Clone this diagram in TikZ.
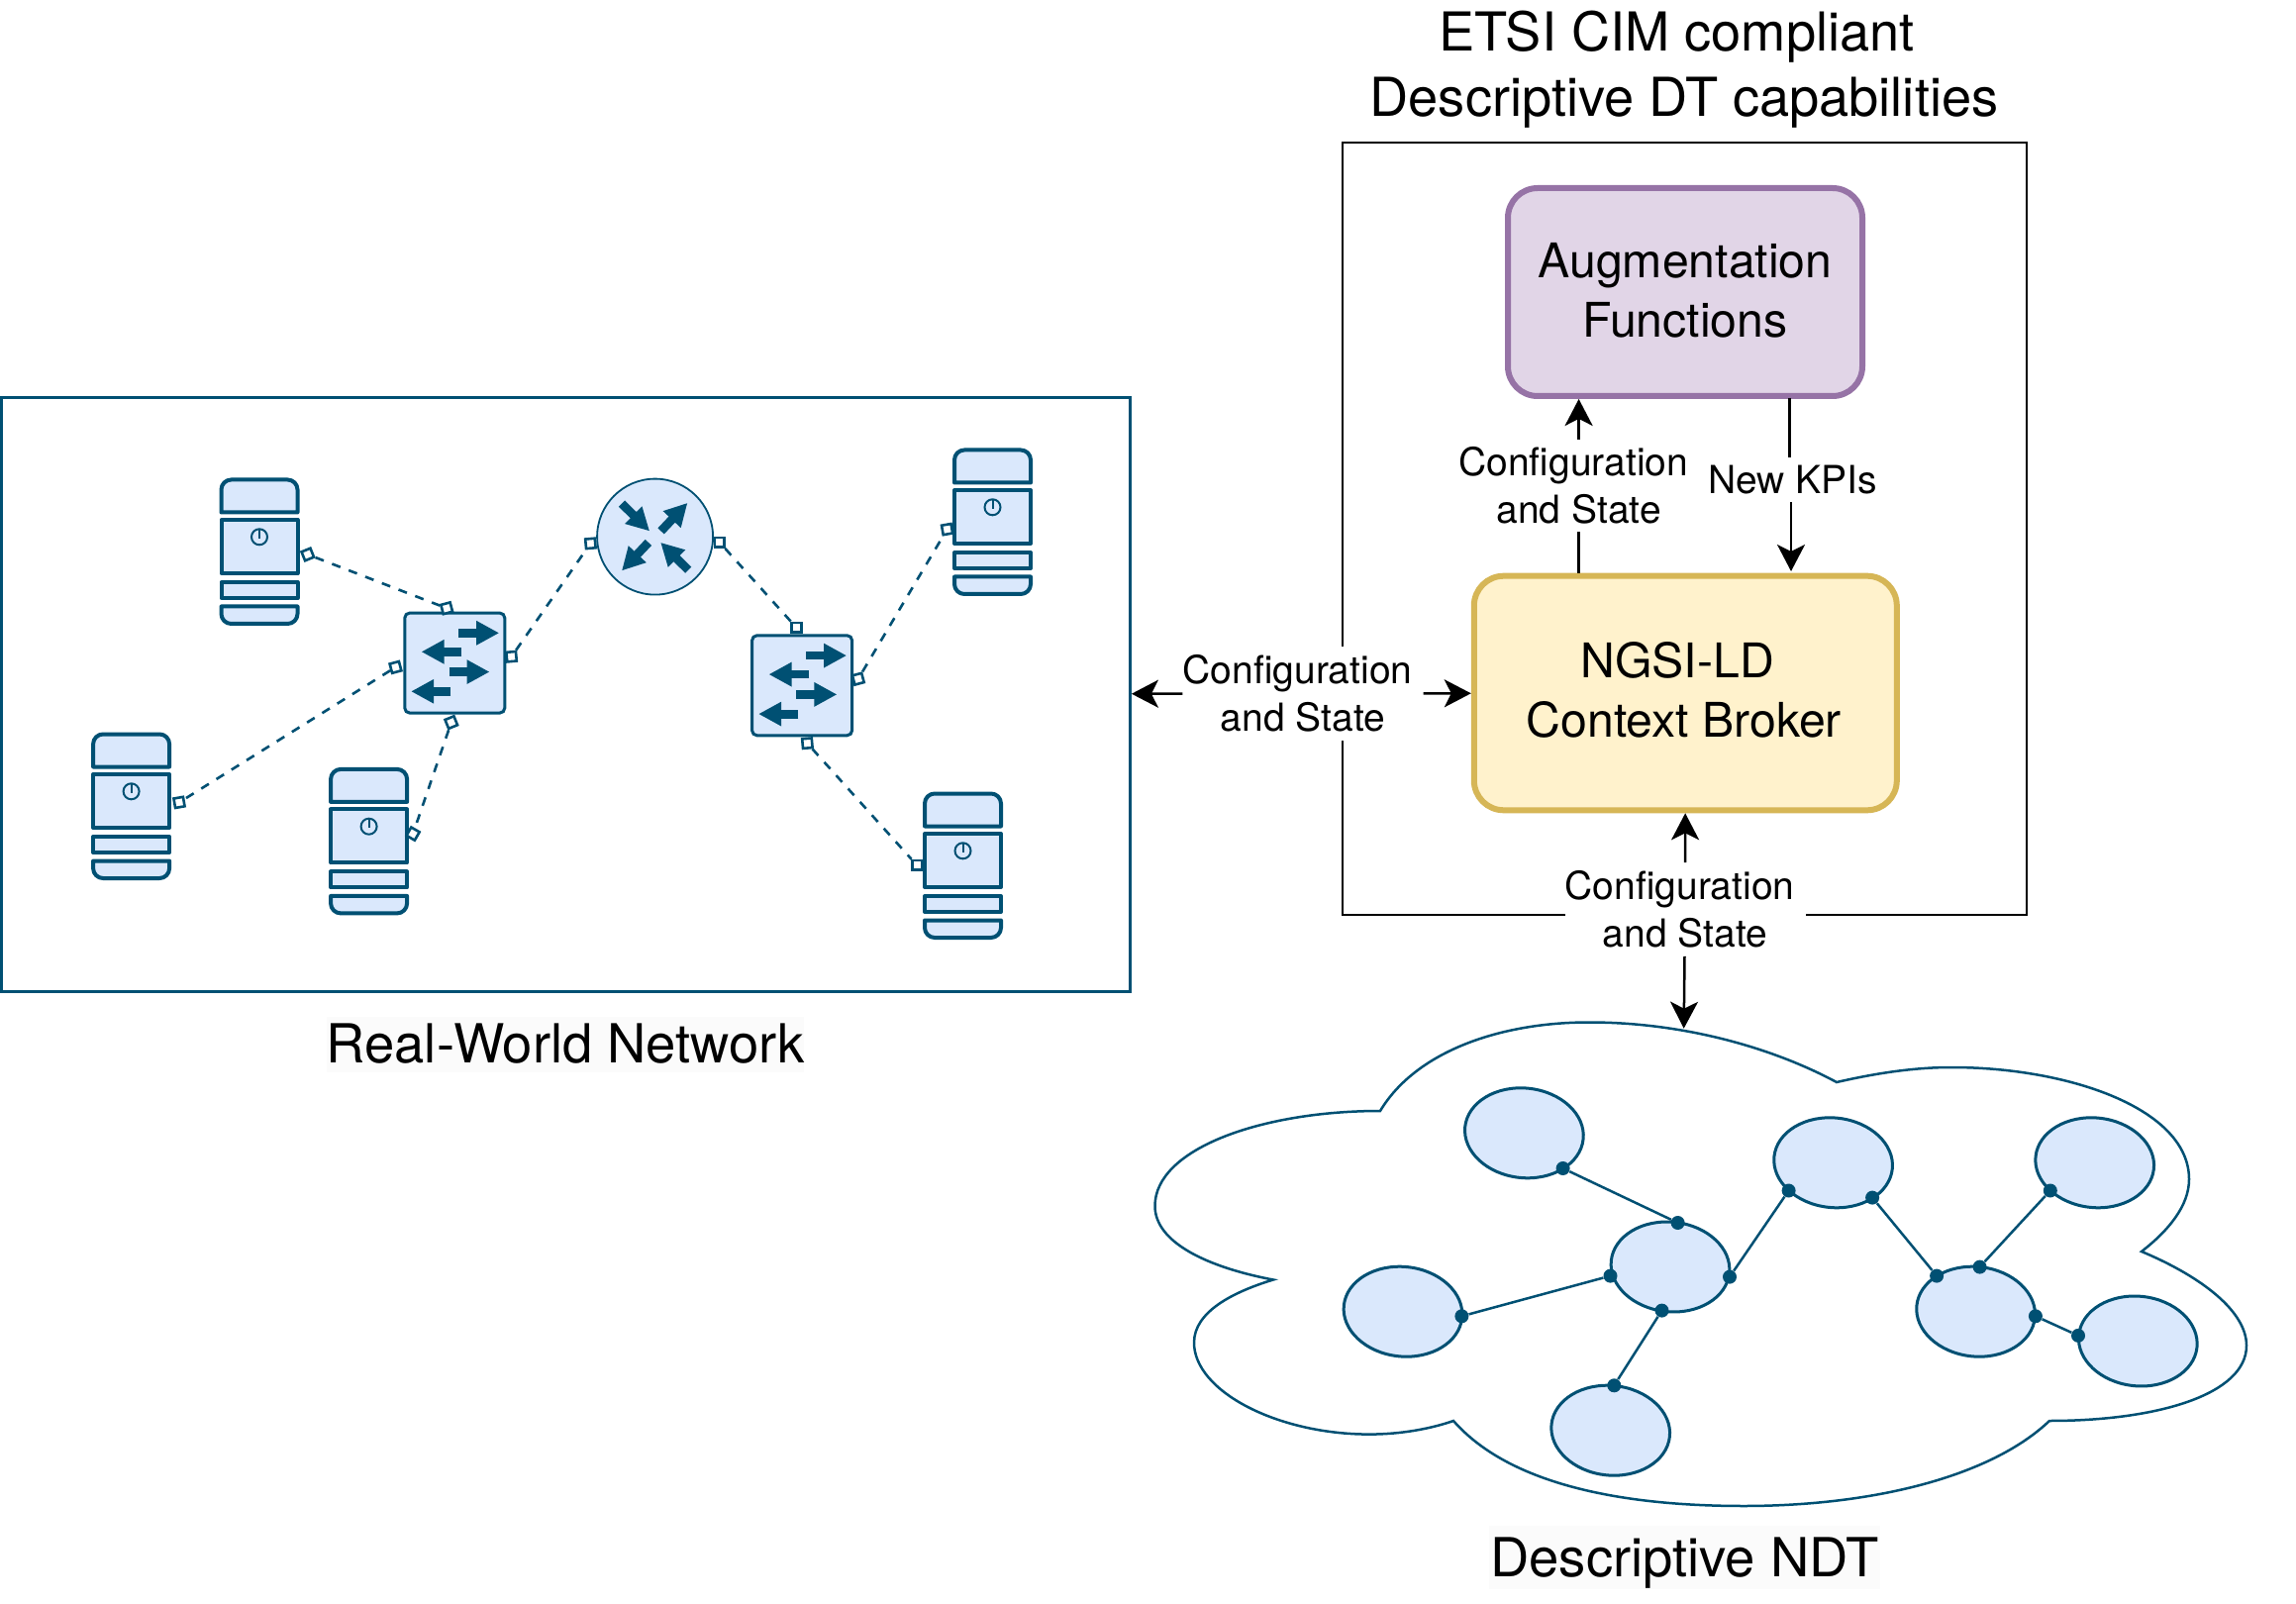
\documentclass[tikz,border=0pt]{standalone}
\usepackage{fontspec}
\setmainfont{TeX Gyre Heros}
\usetikzlibrary{arrows.meta,shapes.geometric}
\definecolor{netline}{HTML}{005073}
\definecolor{netfill}{HTML}{DAE8FC}
\definecolor{brokerfill}{HTML}{FFF2CC}
\definecolor{brokerline}{HTML}{D6B656}
\definecolor{augfill}{HTML}{E1D5E7}
\definecolor{augline}{HTML}{9673A6}
\definecolor{capbg}{HTML}{FBFBFB}
\newcommand{\tsp}{\hspace*{0.278em}}
\tikzset{
  x=0.5pt,y=-0.5pt,
  srvpart/.style={draw=netline,fill=netfill,line width=2pt,line join=round},
  pwr/.style={draw=netline,line width=1pt},
  portmark/.style={draw=netline,fill=white,line width=1.3pt,rectangle,inner sep=0pt,minimum size=4.8pt},
  netlink/.style={draw=netline,line width=1.3pt,dash pattern=on 4.5pt off 4.5pt},
  swbox/.style={draw=netline,fill=netfill,line width=1.5pt,rectangle,rounded corners=2.5pt,inner sep=0pt,minimum size=50.5pt},
  fatarrow/.style={draw=netline,line width=4.4pt,-{Triangle[length=11.5pt,width=11.5pt]}},
  routernode/.style={draw=netline,fill=netfill,line width=0.9pt,circle,inner sep=0pt,minimum size=58.5pt},
  flow/.style={draw=black,line width=1.25pt,-{Stealth[length=13.5pt,width=14pt,inset=3.5pt]}},
  plainflow/.style={draw=black,line width=1.25pt},
  lbl/.style={fill=white,inner sep=0pt,align=center,font=\fontsize{19.5}{24}\selectfont},
  bigbox/.style={rectangle,line width=3pt,inner sep=0pt,align=center,rounded corners=15pt,font=\fontsize{24.1}{29.8}\selectfont},
  caption/.style={fill=capbg,inner sep=0pt,font=\fontsize{27.2}{32.5}\selectfont},
  dtnode/.style={draw=netline,fill=netfill,line width=1.5pt,ellipse,inner sep=0pt,minimum width=60pt,minimum height=45.3pt,rotate=-6},
  dtdot/.style={fill=netline,circle,inner sep=0pt,minimum size=7pt},
  dtlink/.style={draw=netline,line width=1.25pt},
}
\newcommand{\serverIcon}[2]{%
  \begin{scope}[shift={(#1,#2)}]
    \draw[srvpart] (1.5,34.5) -- (1.5,11.5) .. controls (1.5,6) and (6,1.5) .. (11.5,1.5) -- (68.5,1.5) .. controls (74,1.5) and (78.5,6) .. (78.5,11.5) -- (78.5,34.5) -- cycle;
    \draw[srvpart] (1.5,42) rectangle (78.5,96);
    \draw[srvpart] (1.5,105) rectangle (78.5,121);
    \draw[srvpart] (1.5,129.5) -- (78.5,129.5) -- (78.5,137) .. controls (78.5,142.5) and (74,147) .. (68.5,147) -- (11.5,147) .. controls (6,147) and (1.5,142.5) .. (1.5,137) -- cycle;
    \draw[pwr] (40,59.3) circle[radius=8];
    \draw[pwr] (40,51.5) -- (40,61);
  \end{scope}}
\newcommand{\switchArrows}[2]{%
  \begin{scope}[shift={(#1,#2)}]
    \draw[fatarrow] (55.5,21.4) -- (96.6,21.4);
    \draw[fatarrow] (58.8,40.4) -- (18,40.4);
    \draw[fatarrow] (45.9,60.7) -- (86.9,60.7);
    \draw[fatarrow] (47.8,80.4) -- (7.6,80.4);
  \end{scope}}
\begin{document}
\begin{tikzpicture}
\useasboundingbox (0,0) rectangle (2319,1620);
\fill[white] (0,0) rectangle (2319,1620);

% Real-world network frame
\node[draw=netline,line width=1.5pt,rectangle,inner sep=0pt,minimum width=570pt,minimum height=299.5pt] (rw) at (571.4,701.5) {};
\node[caption,minimum width=241pt,minimum height=28pt] (rwcap) at (571,1054.5) {Real-World Network};

% Servers
\serverIcon{222}{483}
\serverIcon{92.6}{740}
\serverIcon{332.6}{775.4}
\serverIcon{962.5}{453}
\serverIcon{932.5}{800}

% Switches and router
\node[swbox] (sw1) at (459.3,669.6) {};
\switchArrows{407.6}{617.9}
\node[swbox] (sw2) at (810.1,692.3) {};
\switchArrows{758.5}{640.7}
\node[routernode] (router) at (661.6,542.1) {};
\draw[fatarrow] (628,508.6) -- (656.1,536.4);
\draw[fatarrow] (667.6,536.4) -- (694.4,507.9);
\draw[fatarrow] (654.9,547.9) -- (628,576.4);
\draw[fatarrow] (695.2,575.7) -- (667.2,547.9);

% Ports
\node[portmark,rotate=22] (p1) at (310.8,560) {};
\node[portmark,rotate=15] (p2) at (451.2,614.3) {};
\node[portmark,rotate=5]  (p3) at (516.6,663.2) {};
\node[portmark,rotate=15] (p4) at (399.5,673.9) {};
\node[portmark,rotate=22] (p5) at (455.8,729.6) {};
\node[portmark,rotate=10] (p6) at (181,810.4) {};
\node[portmark,rotate=60] (p7) at (417.1,842.1) {};
\node[portmark,rotate=5]  (p8) at (596.4,548.9) {};
\node[portmark] (p9) at (726.9,547.9) {};
\node[portmark] (p10) at (804.4,633.9) {};
\node[portmark,rotate=15] (p11) at (866.8,685.7) {};
\node[portmark,rotate=5]  (p12) at (815.4,750.7) {};
\node[portmark,rotate=10] (p13) at (956.6,534.6) {};
\node[portmark] (p14) at (926.1,873.9) {};

\draw[netlink] (p1) -- (p2);
\draw[netlink] (p4) -- (p6);
\draw[netlink] (p5) -- (p7);
\draw[netlink] (p3) -- (p8);
\draw[netlink] (p9) -- (p10);
\draw[netlink] (p11) -- (p13);
\draw[netlink] (p12) -- (p14);

% DT frame and functional blocks
\node[draw=black,line width=1.25pt,rectangle,inner sep=0pt,minimum width=345.5pt,minimum height=390pt] (dtframe) at (1701.5,534) {};
\node[align=center,inner sep=0pt,font=\fontsize{27.1}{33.2}\selectfont] (dttitle) at (1701,70) {ETSI CIM compliant\tsp\\Descriptive DT capabilities};
\node[bigbox,draw=augline,fill=augfill,minimum width=179pt,minimum height=105pt,text depth=2pt] (aug) at (1702,295) {Augmentation\\Functions};
\node[bigbox,draw=brokerline,fill=brokerfill,minimum width=213.5pt,minimum height=118.3pt,text depth=3.7pt] (broker) at (1702.3,700) {NGSI-LD\tsp\hspace*{1.5pt}\\Context Broker\hspace*{1.5pt}};

% Labels on the flows
\node[lbl,minimum width=116pt,minimum height=46.5pt] (lblup) at (1594.6,490.5) {Configuration\tsp\\and State};
\node[lbl,minimum width=86pt,minimum height=22.5pt] (lblkpi) at (1810.5,484.5) {New KPIs};
\node[lbl,minimum width=121pt,minimum height=47.5pt] (lblleft) at (1316,700.5) {Configuration\tsp\\and State};
\node[lbl,minimum width=121.5pt,minimum height=47pt] (lblbottom) at (1702,918.5) {Configuration\tsp\\and State};

% Cloud
\draw[draw=netline,line width=1.25pt,fill=white,line join=miter]
  (1394,1122) .. controls (1430,1062) and (1515,1032.5) .. (1605,1032.5)
  .. controls (1700,1032.5) and (1790,1058) .. (1855,1093)
  .. controls (1890,1085) and (1930,1078) .. (1971,1078)
  .. controls (2090,1078) and (2211,1120) .. (2211,1191)
  .. controls (2211,1218) and (2190,1243) .. (2163,1264)
  .. controls (2225,1290) and (2269,1325) .. (2269,1359)
  .. controls (2269,1408) and (2180,1435) .. (2070,1435)
  .. controls (2010,1492) and (1890,1521) .. (1761,1521)
  .. controls (1640,1521) and (1525,1500) .. (1468,1435)
  .. controls (1445,1443) and (1415,1448.6) .. (1383,1448.6)
  .. controls (1290,1448.6) and (1206,1405) .. (1206,1356)
  .. controls (1206,1325) and (1245,1305) .. (1286,1292.5)
  .. controls (1220,1280) and (1166.5,1255) .. (1166.5,1218)
  .. controls (1166.5,1160) and (1275,1122) .. (1394,1122) -- cycle;
\node[caption,minimum width=197.5pt,minimum height=32pt,text depth=0pt] (ndtcap) at (1701.5,1572.5) {Descriptive NDT};
\coordinate (cloudtop) at (1700.7,1038.7);

% Flows
\coordinate (kpitop) at (1807.7,402);
\coordinate (kpibottom) at (1809,577);
\draw[plainflow] (lblup) -- (lblup |- broker.north);
\draw[flow] (lblup) -- (lblup |- aug.south);
\draw[plainflow] (kpitop) -- (kpitop |- lblkpi.north);
\draw[flow] (kpibottom |- lblkpi.south) -- (kpibottom);
\draw[flow] (lblleft) -- (rw);
\draw[flow] (lblleft) -- (broker);
\draw[flow] (lblbottom) -- (broker);
\draw[flow] (lblbottom) -- (cloudtop);

% DT graph
\node[dtnode] (e1) at (1539.4,1144.3) {};
\node[dtnode] (e2) at (1417,1324.7) {};
\node[dtnode] (e3) at (1687,1279.5) {};
\node[dtnode] (e4) at (1626.7,1444.7) {};
\node[dtnode] (e5) at (1851.6,1174.3) {};
\node[dtnode] (e6) at (2115.7,1174.3) {};
\node[dtnode] (e7) at (1995.6,1324.7) {};
\node[dtnode] (e8) at (2159.3,1354.5) {};

\node[dtdot] (d1) at (1578.6,1180) {};
\node[dtdot] (d2) at (1694.6,1235) {};
\node[dtdot] (d3) at (1626.5,1288.6) {};
\node[dtdot] (d4) at (1476.4,1329.3) {};
\node[dtdot] (d5) at (1678.5,1323.6) {};
\node[dtdot] (d6) at (1630.3,1399.3) {};
\node[dtdot] (d7) at (1747,1289.6) {};
\node[dtdot] (d8) at (1806.6,1202.5) {};
\node[dtdot] (d9) at (1891.1,1209.6) {};
\node[dtdot] (d10) at (1956.1,1288.6) {};
\node[dtdot] (d11) at (1999.6,1279.6) {};
\node[dtdot] (d12) at (2070.8,1202.5) {};
\node[dtdot] (d13) at (2055.9,1329.3) {};
\node[dtdot] (d14) at (2099,1348.9) {};

\draw[dtlink] (d1) -- (d2);
\draw[dtlink] (d3) -- (d4);
\draw[dtlink] (d5) -- (d6);
\draw[dtlink] (d7) -- (d8);
\draw[dtlink] (d9) -- (d10);
\draw[dtlink] (d11) -- (d12);
\draw[dtlink] (d13) -- (d14);
\end{tikzpicture}
\end{document}
